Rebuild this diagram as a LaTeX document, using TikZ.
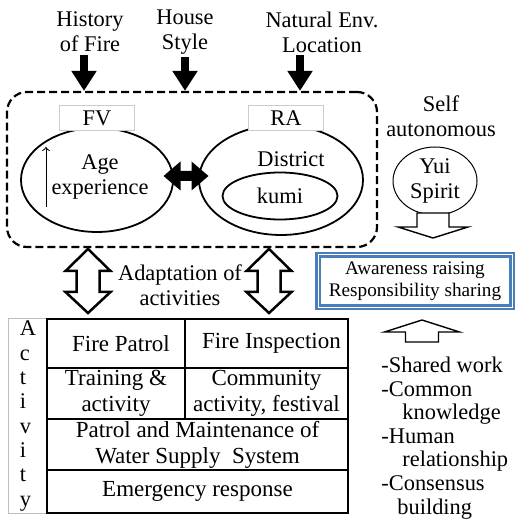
\documentclass[tikz,border=0pt]{standalone}
\usepackage{fontspec}
\setmainfont{Liberation Serif}
\usepackage{tikz}
\usetikzlibrary{shapes, shapes.geometric, calc, arrows.meta, positioning}
\definecolor{boxblue}{RGB}{74,126,187}

\begin{document}
\begin{tikzpicture}[x=0.5pt, y=-0.5pt, >=to, font=\fontsize{11.2}{12.5}\selectfont,
  cell/.style={draw, line width=1pt, inner sep=0pt, outer sep=0pt, align=center, font=\fontsize{11.5}{13}\selectfont},
  lbl/.style={draw=black!20, fill=white, minimum width=37.5pt, minimum height=12.5pt, inner sep=0pt},
  blockarr/.style={draw, fill=white, line join=miter}]
  \useasboundingbox (0,0) rectangle (519,522);

  % influences from outside
  \node[align=center] (hist) at (90,32) {History\\of Fire};
  \node[align=center] (house) at (185,32) {House\\Style};
  \node[align=center] (env) at (322,32) {Natural Env.\\Location};

  \node[draw, dash pattern=on 4pt off 2pt, line width=1.1pt, rounded corners=10pt,
    minimum width=185pt, minimum height=77.5pt] (grp) at (192,169.5) {};

  \foreach \src/\dx in {hist/-6, house/0, env/-22} {
    \coordinate (\src-a) at ($(\src.south)+(\dx,-4)$);
    \draw[line width=4pt, -{Triangle[length=10pt, width=12pt]}] (\src-a) -- (\src-a |- grp.north);
  };

  % fire volunteers
  \node[ellipse, draw, line width=0.9pt, minimum width=76pt, minimum height=52pt] (fv) at (97,180) {};
  \node[align=center] (age) at (100,177) {Age\\experience};
  \node[lbl] (fvlbl) at (97,118) {FV};
  \coordinate (agelo) at (46,207);
  \coordinate (agehi) at (46,147);
  \draw[->, line width=0.5pt] (agelo) -- (agehi);

  % residents association
  \node[ellipse, draw, line width=0.9pt, minimum width=82pt, minimum height=55pt] (ra) at (281,180) {};
  \node[lbl] (ralbl) at (286,118) {RA};
  \node (dist) at (291,159) {District};
  \node[ellipse, draw, line width=0.9pt, minimum width=57.5pt, minimum height=23.5pt] (kumi) at (280,196) {kumi};

  % black two-way arrow between FV and RA
  \coordinate (link) at ($(fv.east)!0.5!(ra.west)+(-22.5,-4)$);
  \fill (link) -- ++(17,-14.5) -- ++(0,9.5) -- ++(11,0) -- ++(0,-9.5) -- ++(17,14.5)
    -- ++(-17,14.5) -- ++(0,-9.5) -- ++(-11,0) -- ++(0,9.5) -- cycle;

  % yui
  \node[align=center] (self) at (441,116) {Self\\autonomous};
  \node[ellipse, draw, line width=0.5pt, align=center, minimum width=42pt, minimum height=34pt, inner sep=0pt] (yui) at (435,181) {Yui\\Spirit};
  \coordinate (down) at (417,213);
  \draw[blockarr, line width=0.7pt] (down) -- ++(32,0) -- ++(0,14) -- ++(19,0) -- ++(-35,11) -- ++(-35,-11) -- ++(19,0) -- cycle;

  \node[draw=boxblue, double=white, double distance=0.5pt, line width=1.2pt, minimum width=97pt, minimum height=26pt,
    align=center, font=\fontsize{9.6}{11}\selectfont] (aware) at (415,281) {Awareness raising\\Responsibility sharing};

  \coordinate (up) at (422,320);
  \draw[blockarr, line width=0.7pt] (up) -- ++(37.5,12) -- ++(-21,0) -- ++(0,10) -- ++(-33,0) -- ++(0,-10) -- ++(-21,0) -- cycle;

  \node[align=left, anchor=west, inner sep=0pt, font=\fontsize{11.2}{11.8}\selectfont] (share) at (381,438)
    {-Shared work\\-Common\\\hspace*{10.5pt}knowledge\\-Human\\\hspace*{10.5pt}relationship\\-Consensus\\\hspace*{8pt}building};

  % adaptation
  \foreach \x in {88, 269} {
    \draw[blockarr, line width=1.25pt] (\x,249) -- ++(22.5,22) -- ++(-11,0) -- ++(0,21) -- ++(11,0) -- ++(-22.5,21)
      -- ++(-22.5,-21) -- ++(11,0) -- ++(0,-21) -- ++(-11,0) -- cycle;
  };
  \node[align=center] (adapt) at (180,285) {Adaptation of\\activities};

  % activity table
  \node[draw=black!25, minimum width=19.5pt, minimum height=97.5pt, inner sep=0pt] (actbox) at (27.5,415.5) {};
  \node[align=left, font=\fontsize{11.2}{12.15}\selectfont] (act) at (28,416) {A\\c\\t\\i\\v\\i\\t\\y};

  \node[cell, minimum width=69pt, minimum height=24.5pt] (patrol) at (116,343.5) {\hspace*{5pt}Fire Patrol};
  \node[cell, minimum width=81.5pt, minimum height=24.5pt, right=0pt of patrol] (insp) {\hspace*{5pt}Fire Inspection};
  \node[cell, minimum width=69pt, minimum height=25.5pt, below=0pt of patrol] (train) {Training \&\\activity};
  \node[cell, minimum width=81.5pt, minimum height=25.5pt, below=0pt of insp] (comm) {Community\\activity, festival};
  \node[cell, minimum width=150.5pt, minimum height=25.5pt, anchor=north west] (water) at (train.south west)
    {Patrol and Maintenance of\\Water Supply\ \ System};
  \node[cell, minimum width=150.5pt, minimum height=21.5pt, anchor=north west] (emerg) at (water.south west) {Emergency response};
\end{tikzpicture}
\end{document}
